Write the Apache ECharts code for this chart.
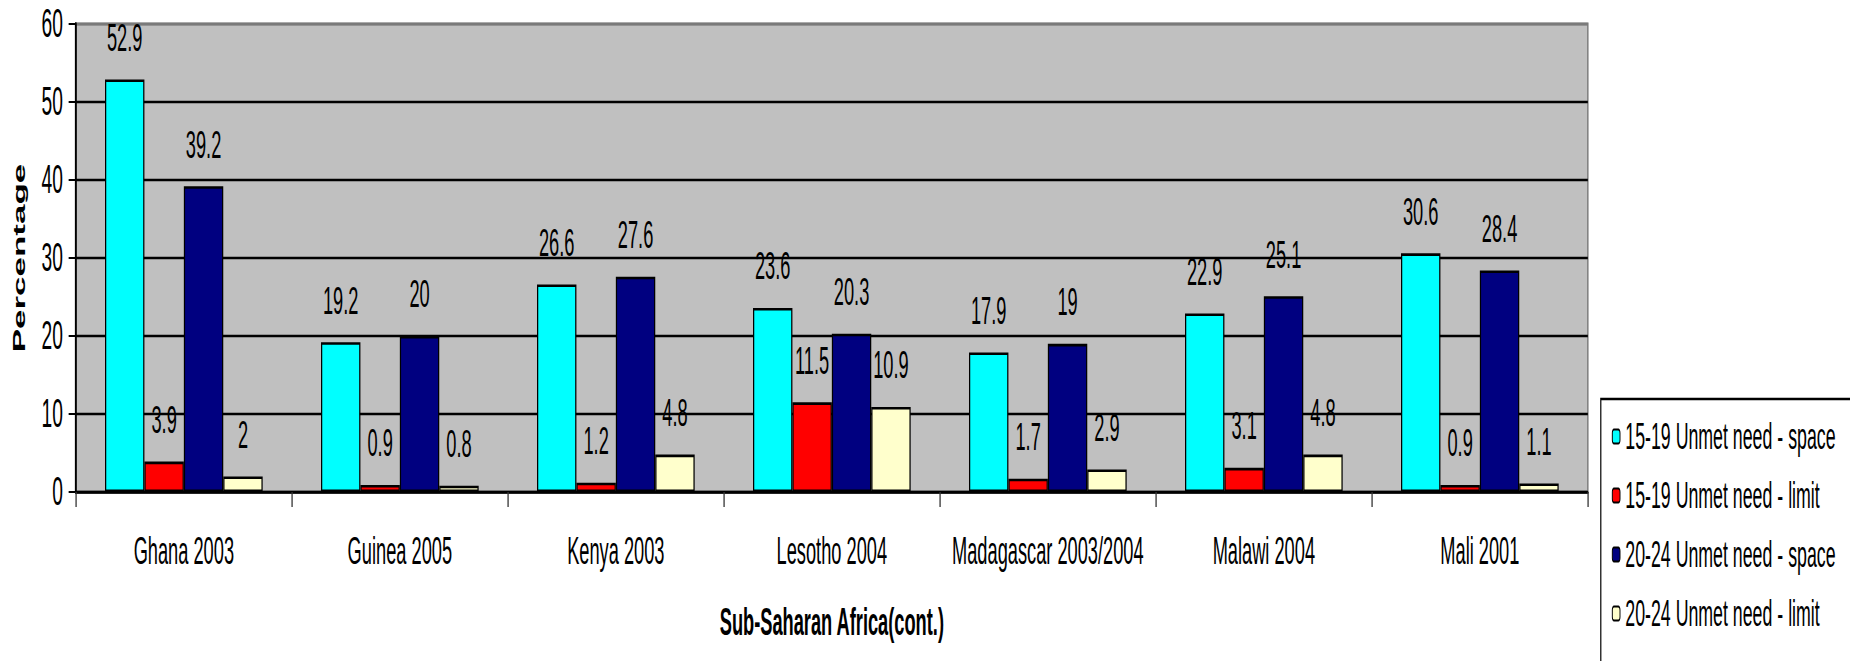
<!DOCTYPE html>
<html>
<head>
<meta charset="utf-8">
<script src="https://cdn.jsdelivr.net/npm/echarts@6/dist/echarts.min.js"></script>
<style>
  html, body { margin: 0; padding: 0; overflow: hidden; background: #fff; }
  /* the reference text is tall and narrow, so draw wide and squeeze horizontally */
  #main { width: 3854px; height: 661px; transform: scaleX(0.48); transform-origin: 0 0; }
</style>
</head>
<body>
<div id="main"></div>
<script>
var categories = ["Ghana 2003", "Guinea 2005", "Kenya 2003", "Lesotho 2004", "Madagascar 2003/2004", "Malawi 2004", "Mali 2001"];
var space1519 = [52.9, 19.2, 26.6, 23.6, 17.9, 22.9, 30.6];
var limit1519 = [3.9, 0.9, 1.2, 11.5, 1.7, 3.1, 0.9];
var space2024 = [39.2, 20, 27.6, 20.3, 19, 25.1, 28.4];
var limit2024 = [2, 0.8, 4.8, 10.9, 2.9, 4.8, 1.1];
var seriesNames = ["15-19 Unmet need - space", "15-19 Unmet need - limit", "20-24 Unmet need - space", "20-24 Unmet need - limit"];
var seriesColors = ["#00FFFF", "#FF0000", "#000080", "#FFFFCC"];

var font = "'Liberation Sans', Arial, sans-serif";

function bar(i, data) {
  return {
    name: seriesNames[i],
    type: "bar",
    data: data,
    barGap: "0%",
    barCategoryGap: "27%",
    itemStyle: { color: seriesColors[i], borderColor: "#000", borderWidth: 2.6 },
    label: {
      show: true,
      position: "top",
      distance: 23,
      color: "#000",
      fontSize: 38,
      fontFamily: font
    }
  };
}

var myChart = echarts.init(document.getElementById("main"), null, { renderer: "svg" });

myChart.setOption({
  animation: false,
  textStyle: { fontFamily: font },
  grid: {
    left: 158,
    right: 546,
    top: 24,
    bottom: 169,
    show: true,
    backgroundColor: "#C0C0C0",
    borderColor: "#7a7a7a",
    borderWidth: 3
  },
  legend: {
    orient: "vertical",
    left: 3335,
    top: 399,
    width: 800,
    height: 600,
    padding: [19, 200, 80, 23],
    itemGap: 22,
    itemWidth: 16,
    itemHeight: 14,
    backgroundColor: "#fff",
    borderColor: "#000",
    borderWidth: 2.5,
    textStyle: { fontSize: 37, color: "#000", fontFamily: font, padding: [0, 0, 0, 6] },
    data: seriesNames
  },
  xAxis: {
    type: "category",
    data: categories,
    name: "Sub-Saharan Africa(cont.)",
    nameLocation: "middle",
    nameGap: 111,
    nameTextStyle: { fontSize: 38, fontWeight: "bold", color: "#000", fontFamily: font },
    axisLine: { lineStyle: { color: "#000", width: 2.5 } },
    axisTick: { show: true, length: 15, lineStyle: { color: "#333", width: 2.7 } },
    axisLabel: { interval: 0, margin: 40, fontSize: 38, color: "#000", fontFamily: font }
  },
  yAxis: {
    type: "value",
    min: 0,
    max: 60,
    interval: 10,
    name: "Percentage",
    nameLocation: "middle",
    nameGap: 100,
    nameTextStyle: { fontSize: 35, fontWeight: "bold", color: "#000", fontFamily: font },
    axisLine: { show: true, lineStyle: { color: "#000", width: 4 } },
    axisTick: { show: true, length: 15, lineStyle: { color: "#000", width: 2 } },
    axisLabel: { margin: 27, fontSize: 40, color: "#000", fontFamily: font },
    splitLine: {
      lineStyle: { color: ["#000", "#000", "#000", "#000", "#000", "#000", "#7a7a7a"], width: 2.3 }
    }
  },
  series: [
    bar(0, space1519),
    bar(1, limit1519),
    bar(2, space2024),
    bar(3, limit2024)
  ]
});
</script>
</body>
</html>
